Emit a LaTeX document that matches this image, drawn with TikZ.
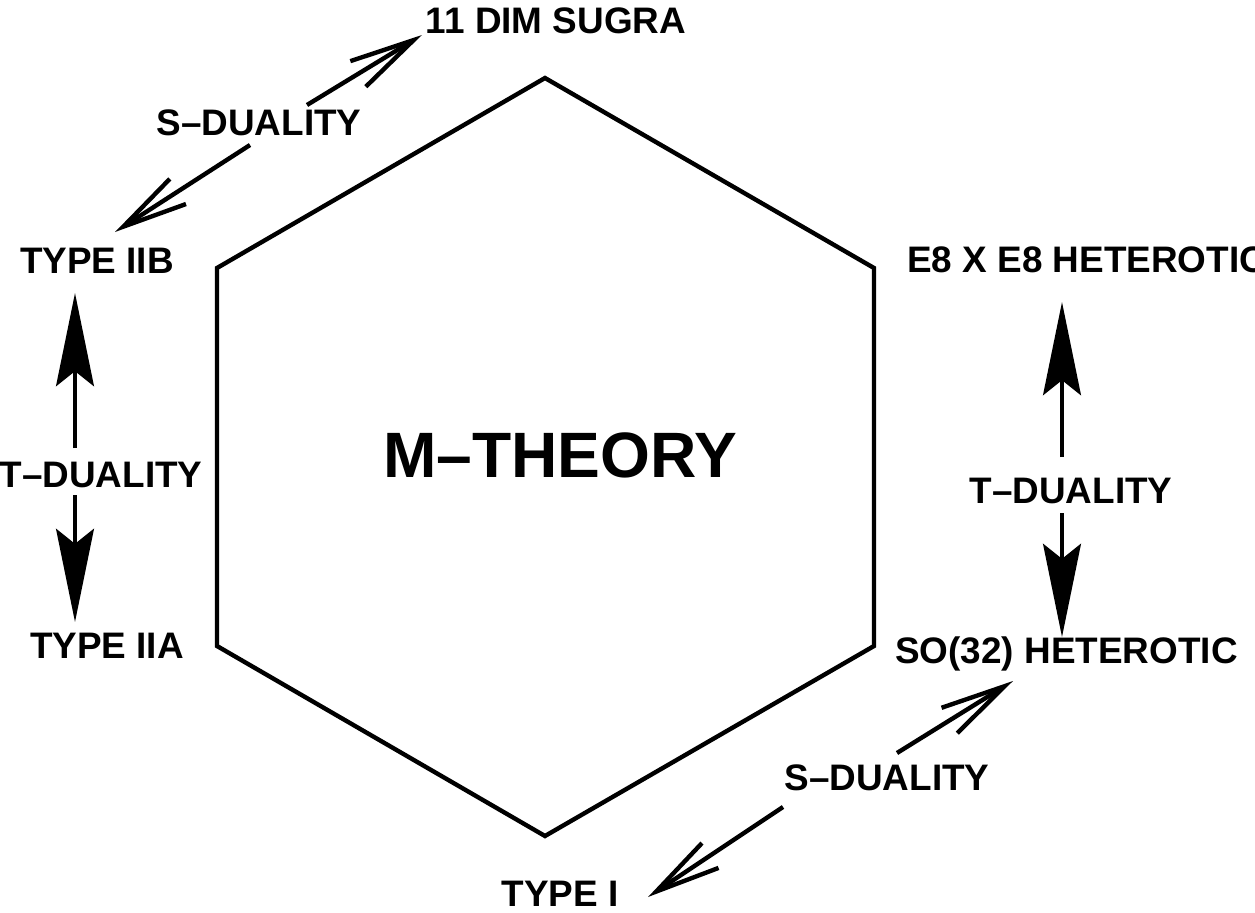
\documentclass[tikz,border=0pt]{standalone}
\usepackage{fontspec}
\setmainfont{Liberation Sans}
\usetikzlibrary{arrows.meta}

\begin{document}
\begin{tikzpicture}[x=0.02cm,y=-0.02cm]
\tikzstyle{lbl}=[font=\bfseries\fontsize{21}{25}\selectfont,inner sep=0pt,anchor=base]
\tikzstyle{hexline}=[line width=2.5pt]
\tikzstyle{sdual}=[line width=2.5pt,-{Straight Barb[length=37pt,width=17pt]}]
\tikzstyle{tdual}=[line width=2.5pt,-{Stealth[length=53pt,width=21.5pt,inset=8.5pt]}]
\useasboundingbox (0,0) rectangle (1255,913);
% the hexagon
\draw[hexline] (545,78) -- (874,268) -- (874,646) -- (545,836) -- (217,646) -- (217,268) -- cycle;
\node[lbl,font=\bfseries\fontsize{36.5}{40}\selectfont] (M) at (560,477) {M--THEORY};
% theories
\node[lbl] (sugra) at (556,33) {11 DIM SUGRA};
\node[lbl] (iib) at (97,273) {TYPE IIB};
\node[lbl] (iia) at (107,658) {TYPE IIA};
\node[lbl,anchor=base west] (e8) at (907,272) {E8 X E8 HETEROTIC};
\node[lbl,anchor=base west] (so32) at (895,663) {SO(32) HETEROTIC};
\node[lbl] (typei) at (560,906) {TYPE I};
% dualities
\node[lbl] (sdt) at (259,135) {S--DUALITY};
\node[lbl] (sdb) at (887,790) {S--DUALITY};
\node[lbl] (tdl) at (101,487) {T--DUALITY};
\node[lbl] (tdr) at (1071,503) {T--DUALITY};
\draw[sdual] ([shift={(48,-30)}]sdt.base) -- ([shift={(-134,2)}]sugra.base);
\draw[sdual] ([shift={(-9,10)}]sdt.base) -- ([shift={(18,-41)}]iib.base);
\draw[sdual] ([shift={(10,-37)}]sdb.base) -- ([shift={(118,18)}]so32.base west);
\draw[sdual] ([shift={(-104,17)}]sdb.base) -- ([shift={(88,-9)}]typei.base);
\draw[tdual] ([shift={(-26,-39)}]tdl.base) -- ([shift={(-22,20)}]iib.base);
\draw[tdual] ([shift={(-26,8)}]tdl.base) -- ([shift={(-32,-36)}]iia.base);
\draw[tdual] ([shift={(-9,-46)}]tdr.base) -- ([shift={(155,30)}]e8.base west);
\draw[tdual] ([shift={(-9,10)}]tdr.base) -- ([shift={(167,-26)}]so32.base west);
\end{tikzpicture}
\end{document}
